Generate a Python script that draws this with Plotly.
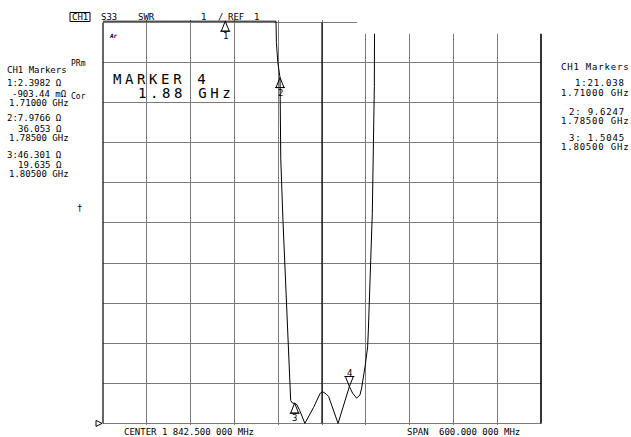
import plotly.graph_objects as go

# ---------------- data ----------------
center_mhz = 1842.5
span_mhz = 600.0
n_div = 10
ref_swr = 1.0
swr_per_div = 1.0
top_display = 11.03          # level where off-scale trace points are drawn

freq_mhz = [1542.5, 1600.0, 1650.0, 1700.0, 1710.0, 1750.0, 1779.5, 1780.0, 1782.0,
            1785.0, 1786.0, 1789.0, 1795.5, 1799.6, 1802.5, 1805.0, 1808.0, 1812.0,
            1819.0, 1831.0, 1840.0, 1843.5, 1848.4, 1851.6, 1864.5, 1872.6, 1880.0,
            1884.5, 1890.0, 1894.5, 1896.8, 1901.4, 1905.0, 1906.0, 1911.4, 1914.2,
            1914.3, 1914.5, 2000.0, 2142.5]
swr_read = [11.03, 11.03, 11.03, 11.03, 11.03, 11.03, 11.03, 10.5, 10.0,
            9.62, 7.6, 6.07, 3.33, 1.57, 1.50, 1.5045, 1.47, 1.32,
            1.0, 1.40, 1.75, 1.79, 1.73, 1.67, 1.0, 1.46, 1.92,
            1.75, 1.63, 1.71, 1.88, 2.41, 2.91, 3.33, 6.24, 9.40,
            10.71, 11.03, 11.03, 11.03]

marker_ids = ["1", "2", "3", "4"]
marker_freq_mhz = [1710.0, 1785.0, 1805.0, 1880.0]
marker_swr = [21.038, 9.6247, 1.5045, 1.92]
active_marker = "4"

header_box = "CH1"
header_items = ["S33", "SWR", "1", "/", "REF", "1"]
left_lines = ["CH1 Markers",
              "1:2.3982 Ω", "-903.44 mΩ", "1.71000 GHz",
              "2:7.9766 Ω", "36.053 Ω", "1.78500 GHz",
              "3:46.301 Ω", "19.635 Ω", "1.80500 GHz"]
right_lines = ["CH1 Markers",
               "1:21.038", "1.71000 GHz",
               "2: 9.6247", "1.78500 GHz",
               "3: 1.5045", "1.80500 GHz"]
status_items = ["PRm", "Cor", "†"]
active_lines = ["MARKER 4", "1.88 GHz"]
center_label = "CENTER 1 842.500 000 MHz"
span_items = ["SPAN", "600.000 000 MHz"]
corner_note = "Ar"

# ---------------- layout geometry / style ----------------
W, H = 631, 437
L, R, T, B = 103, 90, 20, 12
PW, PH = W - L - R, H - T - B
MONO = "DejaVu Sans Mono"
GRID = "#7a7a7a"

f_start = center_mhz - span_mhz / 2
f_stop = center_mhz + span_mhz / 2
y_lo, y_hi = ref_swr - 0.04, ref_swr + n_div * swr_per_div + 0.06
y_top = ref_swr + n_div * swr_per_div


def px(xp):
    return (xp - L) / PW


def py(yp):
    return (H - B - yp) / PH


def yfrac(v):
    return (v - y_lo) / (y_hi - y_lo)


def ann(text, xp, yp, xanchor="left", size=9, **kw):
    d = dict(x=px(xp), y=py(yp), xref="paper", yref="paper", text=text,
             showarrow=False, xanchor=xanchor, yanchor="middle", borderpad=0,
             font=dict(family=MONO, size=size, color="black"))
    d.update(kw)
    return d


swr_display = [min(v, top_display) for v in swr_read]

fig = go.Figure()
fig.add_trace(go.Scatter(x=freq_mhz, y=swr_display, mode="lines",
                         line=dict(color="black", width=1), hoverinfo="skip",
                         showlegend=False))

shapes = []
# blank strip at the top right of the graticule
shapes.append(dict(type="rect", xref="x", yref="y", x0=1890.4, x1=f_stop + 20,
                   y0=10.72, y1=y_hi + 1, fillcolor="white", line=dict(width=0),
                   layer="above"))
# borders / centre line
shapes.append(dict(type="line", xref="paper", yref="paper", x0=0, x1=0,
                   y0=yfrac(ref_swr), y1=yfrac(y_top), line=dict(color="black", width=1.2)))
shapes.append(dict(type="line", xref="paper", yref="paper", x0=1, x1=1,
                   y0=yfrac(ref_swr), y1=yfrac(10.72), line=dict(color="black", width=1.6)))
shapes.append(dict(type="line", xref="x", yref="y", x0=center_mhz, x1=center_mhz,
                   y0=ref_swr, y1=y_top, line=dict(color="black", width=1.2)))
# reference position marker
shapes.append(dict(type="path", xref="paper", yref="paper", xsizemode="pixel",
                   ysizemode="pixel", xanchor=0, yanchor=yfrac(ref_swr),
                   path="M-7,3 L-1,0 L-7,-3 Z", line=dict(color="black", width=1)))
# CH1 box
shapes.append(dict(type="rect", xref="paper", yref="paper", x0=px(70), x1=px(90),
                   y0=py(21.5), y1=py(12.5), line=dict(color="black", width=1)))

annotations = []
for mid, mf, ms in zip(marker_ids, marker_freq_mhz, marker_swr):
    yv = min(ms, top_display)
    if mid == active_marker:
        path = "M0,0 L-4,10 L4,10 Z M-5,10 L5,10"
        shift = 14
    else:
        path = "M0,0 L-4,-10 L4,-10 Z M-5,-10 L5,-10"
        shift = -15
    shapes.append(dict(type="path", xref="x", yref="y", xsizemode="pixel",
                       ysizemode="pixel", xanchor=mf, yanchor=yv, path=path,
                       line=dict(color="black", width=1), layer="above"))
    annotations.append(dict(x=mf, y=yv, xref="x", yref="y", text=mid, showarrow=False,
                            yshift=shift, xanchor="center", yanchor="middle",
                            font=dict(family=MONO, size=9, color="black")))

# header
annotations.append(ann(header_box, 80, 16.8, xanchor="center"))
for txt, xp in zip(header_items, [100, 137, 200, 217, 227, 253]):
    annotations.append(ann(txt, xp, 16.8))

# left marker table
left_pos = [(68, 70), (63, 83), (68, 94.5), (70, 102.5), (63, 118), (63, 129),
            (70, 137.5), (63, 155), (63, 165), (70, 173.5)]
for txt, (xp, yp) in zip(left_lines, left_pos):
    annotations.append(ann(txt, xp, yp, xanchor="right"))
for txt, (xp, yp, sz) in zip(status_items, [(70, 64, 8), (70, 96, 8), (76, 208, 9)]):
    annotations.append(ann(txt, xp, yp, size=sz))

# right marker table
right_pos = [(630, 67), (626, 83), (630, 92.5), (626, 112), (630, 121), (626, 138), (630, 147)]
for txt, (xp, yp) in zip(right_lines, right_pos):
    annotations.append(ann("<span style='letter-spacing:0.8px'>" + txt + "</span>",
                           xp, yp, xanchor="right", size=9))

# active marker readout
for txt, (xp, yp) in zip(active_lines, [(112, 79), (137, 93)]):
    annotations.append(ann("<span style='letter-spacing:3.6px'>" + txt + "</span>",
                           xp, yp, size=14))

annotations.append(ann("<b><i>" + corner_note + "</i></b>", 108, 35, size=6))

# bottom labels
annotations.append(ann(center_label, 123, 432))
for txt, xp in zip(span_items, [405.5, 438]):
    annotations.append(ann(txt, xp, 432))

fig.update_layout(
    width=W, height=H, autosize=False,
    margin=dict(l=L, r=R, t=T, b=B, pad=0),
    paper_bgcolor="white", plot_bgcolor="white",
    shapes=shapes, annotations=annotations, showlegend=False,
    xaxis=dict(range=[f_start, f_stop], tick0=f_start, dtick=span_mhz / n_div,
               showgrid=True, gridcolor=GRID, gridwidth=1, zeroline=False,
               showline=False, showticklabels=False, ticks="", fixedrange=True),
    yaxis=dict(range=[y_lo, y_hi], tick0=ref_swr, dtick=swr_per_div,
               showgrid=True, gridcolor=GRID, gridwidth=1, zeroline=False,
               showline=False, showticklabels=False, ticks="", fixedrange=True),
)

fig.write_html("out.html", config={"displayModeBar": False},
               post_script="document.body.style.margin='0';document.body.style.overflow='hidden';")
